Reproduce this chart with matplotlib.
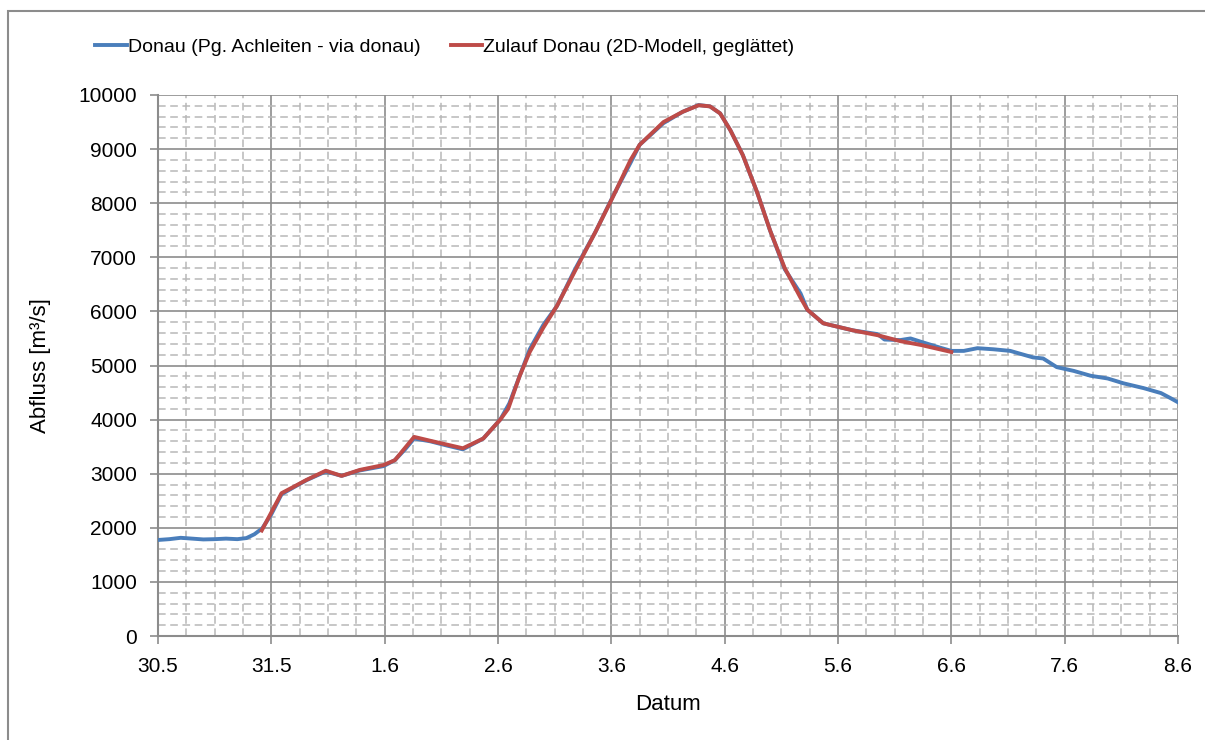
import matplotlib
matplotlib.use("Agg")
import matplotlib.pyplot as plt
from matplotlib.patches import Rectangle
from matplotlib.ticker import MultipleLocator

plt.rcParams['font.family'] = ['Liberation Sans', 'DejaVu Sans']

# x = days since 30.5 00:00
tick_labels = ['30.5', '31.5', '1.6', '2.6', '3.6', '4.6', '5.6', '6.6', '7.6', '8.6']

donau_t = [0.00, 0.10, 0.20, 0.30, 0.40, 0.50, 0.60, 0.70, 0.78, 0.85, 0.92, 1.00,
           1.09, 1.19, 1.31, 1.48, 1.62, 1.78, 1.99, 2.09, 2.18, 2.26, 2.40, 2.55,
           2.69, 2.87, 3.02, 3.10, 3.19, 3.28, 3.40, 3.52, 3.68, 3.86, 4.01, 4.17,
           4.25, 4.46, 4.63, 4.77, 4.87, 4.96, 5.05, 5.16, 5.29, 5.40, 5.53, 5.67,
           5.73, 5.87, 5.99, 6.13, 6.35, 6.41, 6.55, 6.64, 6.73, 6.90, 7.00, 7.11,
           7.23, 7.37, 7.52, 7.72, 7.81, 7.93, 8.08, 8.23, 8.38, 8.52, 8.70, 8.85,
           8.94, 9.00]
donau_q = [1775, 1790, 1815, 1800, 1785, 1790, 1800, 1790, 1810, 1880, 1990, 2250,
           2620, 2740, 2880, 3040, 2960, 3060, 3140, 3250, 3450, 3650, 3600, 3520,
           3450, 3650, 4000, 4300, 4800, 5300, 5750, 6100, 6780, 7470, 8110, 8750,
           9080, 9480, 9690, 9815, 9790, 9660, 9350, 8890, 8180, 7500, 6780, 6330,
           6030, 5780, 5720, 5650, 5580, 5480, 5470, 5500, 5440, 5330, 5270, 5270,
           5320, 5300, 5270, 5150, 5130, 4970, 4900, 4810, 4760, 4670, 4580, 4490,
           4390, 4320]

zulauf_t = [0.915, 1.09, 1.19, 1.31, 1.48, 1.62, 1.78, 1.99, 2.09, 2.26, 2.40, 2.69,
            2.87, 3.02, 3.09, 3.19, 3.28, 3.40, 3.52, 3.68, 3.86, 4.01, 4.17, 4.25,
            4.46, 4.63, 4.77, 4.87, 4.96, 5.05, 5.16, 5.29, 5.40, 5.53, 5.67, 5.73,
            5.87, 5.99, 6.13, 6.35, 6.55, 6.73, 7.00]
zulauf_q = [1950, 2640, 2750, 2885, 3055, 2960, 3070, 3160, 3250, 3680, 3610, 3470,
            3650, 4000, 4200, 4800, 5250, 5700, 6100, 6750, 7470, 8100, 8800, 9080,
            9500, 9690, 9810, 9790, 9660, 9350, 8890, 8180, 7500, 6800, 6250, 6030,
            5780, 5720, 5650, 5560, 5450, 5380, 5250]

fig = plt.figure(figsize=(12.05, 7.40), dpi=100)
fig.patches.append(Rectangle((8/1205, -0.1), 1.2, (740-11)/740 + 0.1, transform=fig.transFigure,
                             fill=False, edgecolor='#8c8c8c', linewidth=1.5, zorder=0))
ax = fig.add_axes([158/1205, 104/740, 1020/1205, 541/740])

ax.plot(donau_t, donau_q, color='#4a7ebb', linewidth=2.8, label='Donau (Pg. Achleiten - via donau)',
        solid_joinstyle='round', zorder=3)
ax.plot(zulauf_t, zulauf_q, color='#be4b48', linewidth=2.8, label='Zulauf Donau (2D-Modell, geglättet)',
        solid_joinstyle='round', zorder=4)

ax.set_xlim(0, 9)
ax.set_ylim(0, 10000)
ax.set_xticks(range(len(tick_labels)))
ax.set_xticklabels(tick_labels)
ax.set_yticks(range(0, 10001, 1000))
ax.xaxis.set_minor_locator(MultipleLocator(0.25))
ax.yaxis.set_minor_locator(MultipleLocator(200))

ax.grid(which='major', color='#8c8c8c', linewidth=1.2, zorder=1)
ax.grid(which='minor', color='#b8b8b8', linewidth=1.1, linestyle=(0, (5, 3)), zorder=0)
ax.set_axisbelow(True)

for s in ['top', 'right']:
    ax.spines[s].set_visible(False)
for s in ['left', 'bottom']:
    ax.spines[s].set_color('#8c8c8c')
    ax.spines[s].set_linewidth(1.5)

ax.tick_params(which='major', direction='out', length=6, width=1.2, color='#8c8c8c',
               labelsize=15, labelcolor='black', pad=9)
ax.tick_params(which='minor', length=0)

ax.set_xlabel('Datum', fontsize=16, labelpad=13)
ax.set_ylabel('Abfluss [m³/s]', fontsize=16, labelpad=20)

leg = fig.legend(loc='center', bbox_to_anchor=(445/1205, 1 - 47/740), ncol=2, frameon=False,
                 fontsize=14, handlelength=1.6, columnspacing=1.6, handletextpad=0.05)

fig.savefig('out.png', dpi=100, facecolor='white')
